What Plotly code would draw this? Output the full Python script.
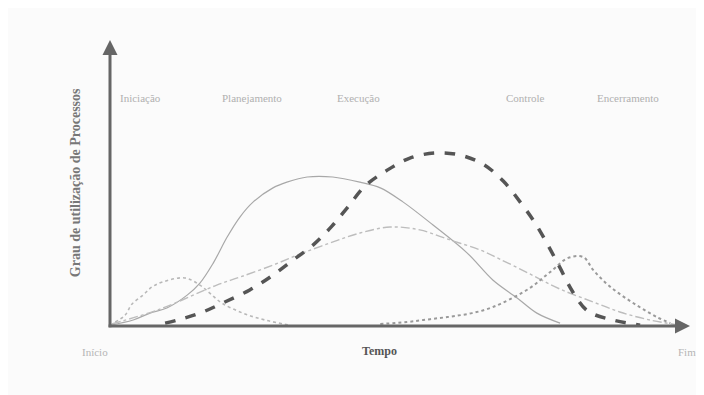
import plotly.graph_objects as go

# Curves (time 0-100, intensity 0-100)
ini_x = [0.9, 2.6, 3.8, 5.7, 7.2, 9.1, 12.9, 15.5, 17.2, 19.3, 22.9, 26.7, 31.0]
ini_y = [1.4, 3.8, 7.7, 10.8, 13.6, 15.4, 16.8, 14.3, 11.5, 8.0, 4.5, 2.1, 0.3]

plan_x = [0, 4.0, 6.9, 9.8, 13.3, 15.5, 17.8, 20.2, 22.4, 24.7, 28.1, 30.5, 34.0,
          38.4, 43.1, 46.6, 50.5, 55.7, 61.6, 66.0, 70.2, 73.6, 77.6]
plan_y = [0.3, 2.1, 4.5, 6.3, 10.8, 15.0, 22.0, 31.1, 38.1, 43.4, 48.3, 50.3, 52.1,
          52.1, 50.3, 48.3, 43.4, 35.3, 25.5, 16.1, 9.8, 4.5, 1.0]

exe_x = [9.5, 11.7, 16.0, 19.8, 24.1, 27.9, 31.6, 35.0, 38.3, 41.0, 44.0, 47.8, 51.7,
         56.0, 60.3, 64.3, 67.8, 70.7, 73.3, 75.5, 77.6, 79.8, 82.4, 86.7, 91.4]
exe_y = [1.0, 2.1, 4.9, 8.4, 12.6, 17.5, 23.1, 28.3, 35.0, 41.6, 49.0, 54.5, 58.7,
         60.5, 59.8, 56.6, 50.7, 43.4, 36.0, 28.3, 20.3, 11.9, 5.2, 2.1, 0.3]

ctl_x = [0.3, 8.6, 18.4, 22.4, 28.1, 32.8, 37.9, 43.1, 48.3, 53.4, 58.6, 63.8, 67.2,
         72.4, 77.6, 83.3, 87.9, 93.1, 98.3]
ctl_y = [0.7, 5.9, 14.3, 17.1, 21.3, 25.2, 29.0, 32.5, 34.6, 33.6, 30.1, 26.6, 23.4,
         18.2, 12.9, 8.4, 4.9, 2.1, 0.3]

enc_x = [46.6, 51.2, 54.0, 56.9, 59.5, 62.4, 65.0, 67.6, 72.4, 75.9, 79.0, 81.6, 83.3,
         85.3, 87.4, 89.7, 91.9, 94.3, 96.6]
enc_y = [0.7, 1.4, 2.1, 2.8, 3.5, 4.5, 5.9, 8.0, 13.3, 18.9, 23.8, 24.1, 19.6,
         15.4, 11.9, 8.7, 5.9, 3.1, 1.0]

group_names = ["Iniciação", "Planejamento", "Execução", "Controle", "Encerramento"]
group_label_x = [5.2, 24.5, 42.8, 71.6, 89.3]

FONT = "Liberation Serif"

fig = go.Figure()

series = [
    (ini_x, ini_y, dict(color="#b8b8b8", width=1.6, dash="dot")),
    (plan_x, plan_y, dict(color="#a8a8a8", width=1.2, dash="solid")),
    (ctl_x, ctl_y, dict(color="#bdbdbd", width=1.4, dash="dashdot")),
    (enc_x, enc_y, dict(color="#9a9a9a", width=2, dash="dot")),
    (exe_x, exe_y, dict(color="#555555", width=3.5, dash="dash")),
]
for xs, ys, line in series:
    line["shape"] = "spline"
    fig.add_trace(go.Scatter(x=xs, y=ys, mode="lines", line=line,
                             showlegend=False, hoverinfo="skip"))

# axis arrows
fig.add_annotation(x=0, y=100, ax=0, ay=-1, xref="x", yref="y", axref="x", ayref="y",
                   showarrow=True, arrowhead=2, arrowsize=1, arrowwidth=3,
                   arrowcolor="#666666", text="")
fig.add_annotation(x=100, y=0, ax=-0.5, ay=0, xref="x", yref="y", axref="x", ayref="y",
                   showarrow=True, arrowhead=2, arrowsize=1, arrowwidth=3,
                   arrowcolor="#666666", text="")

for name, lx in zip(group_names, group_label_x):
    fig.add_annotation(x=lx, y=79.7, xref="x", yref="y", text=name, showarrow=False,
                       font=dict(family=FONT, size=11, color="#b0b0b0"))

# text outside the plot area, placed in paper coords
fig.add_annotation(x=-0.026, y=-0.12, xref="paper", yref="paper", text="Início",
                   xanchor="center", showarrow=False,
                   font=dict(family=FONT, size=11, color="#b5b5b5"))
fig.add_annotation(x=0.465, y=-0.12, xref="paper", yref="paper", text="<b>Tempo</b>",
                   xanchor="center", showarrow=False,
                   font=dict(family=FONT, size=12, color="#555555"))
fig.add_annotation(x=0.995, y=-0.12, xref="paper", yref="paper", text="Fim",
                   xanchor="center", showarrow=False,
                   font=dict(family=FONT, size=11, color="#b5b5b5"))
fig.add_annotation(x=-0.06, y=0.5, xref="paper", yref="paper",
                   text="<b>Grau de utilização de Processos</b>", textangle=-90,
                   xanchor="center", yanchor="middle", showarrow=False,
                   font=dict(family=FONT, size=14, color="#777777"))

fig.update_layout(
    width=704, height=395,
    margin=dict(l=102, r=22, t=32, b=77),
    paper_bgcolor="#fbfbfb", plot_bgcolor="#fbfbfb",
    xaxis=dict(range=[0, 100], visible=False),
    yaxis=dict(range=[0, 100], visible=False),
)

fig.write_html("out.html")
